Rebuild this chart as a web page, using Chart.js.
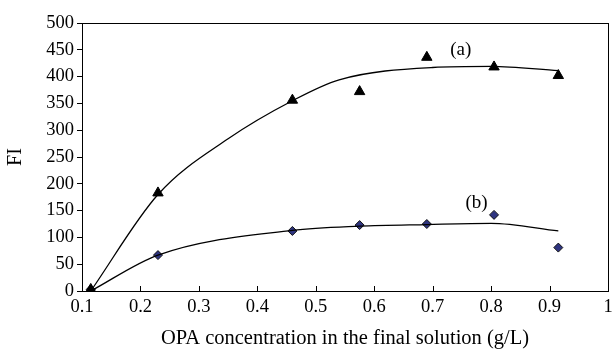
<!DOCTYPE html>
<html>
<head>
<meta charset="utf-8">
<script src="https://cdn.jsdelivr.net/npm/chart.js@4/dist/chart.umd.min.js"></script>
<style>
  html, body { margin: 0; padding: 0; background: #fff; }
  #wrap { width: 615px; height: 349px; }
</style>
</head>
<body>
<div id="wrap"><canvas id="fiChart" width="615" height="349"></canvas></div>
<script>
// measured points, series (a) triangles and (b) diamonds
const concX = [0.115, 0.23, 0.46, 0.575, 0.69, 0.805, 0.915];
const fiA = [3, 183, 356, 372, 436, 418, 402];
const fiB = [3, 67, 112, 123, 125, 142, 81];

// trend curves
const curveAX = [0.115, 0.23, 0.35, 0.46, 0.54, 0.7, 0.8, 0.915];
const curveAY = [0, 180, 284, 355, 394, 417, 419, 411];
const curveBX = [0.115, 0.23, 0.46, 0.575, 0.69, 0.8, 0.915];
const curveBY = [0, 67, 113, 121, 124, 126, 112];

const seriesLabels = ['(a)', '(b)'];
const xTitle = 'OPA concentration in the final solution (g/L)';
const yTitle = 'FI';

const FONT = "'Liberation Serif', 'DejaVu Serif', serif";

function toPoints(xs, ys) {
  return xs.map((x, i) => ({ x: x, y: ys[i] }));
}

// box round the plot, inward x ticks and the (a)/(b) labels
const framePlugin = {
  id: 'frame',
  afterDraw(chart) {
    const { ctx, chartArea: a, scales } = chart;
    ctx.save();
    ctx.strokeStyle = '#000';
    ctx.lineWidth = 1;
    ctx.strokeRect(a.left + 0.5, a.top + 0.5, a.right - a.left, a.bottom - a.top);
    ctx.beginPath();
    scales.x.ticks.forEach(t => {
      const px = Math.round(scales.x.getPixelForValue(t.value)) + 0.5;
      ctx.moveTo(px, a.bottom);
      ctx.lineTo(px, a.bottom - 5);
    });
    ctx.stroke();
    ctx.fillStyle = '#000';
    ctx.font = '19px ' + FONT;
    ctx.textAlign = 'center';
    ctx.textBaseline = 'middle';
    ctx.fillText(seriesLabels[0], scales.x.getPixelForValue(0.748), scales.y.getPixelForValue(450));
    ctx.fillText(seriesLabels[1], scales.x.getPixelForValue(0.775), scales.y.getPixelForValue(164));
    ctx.restore();
  }
};

new Chart(document.getElementById('fiChart').getContext('2d'), {
  type: 'scatter',
  data: {
    datasets: [
      {
        type: 'line',
        data: toPoints(curveAX, curveAY),
        borderColor: '#000',
        borderWidth: 1.3,
        pointRadius: 0,
        cubicInterpolationMode: 'monotone',
        fill: false
      },
      {
        type: 'line',
        data: toPoints(curveBX, curveBY),
        borderColor: '#000',
        borderWidth: 1.3,
        pointRadius: 0,
        cubicInterpolationMode: 'monotone',
        fill: false
      },
      {
        data: toPoints(concX, fiA),
        pointStyle: 'triangle',
        pointRadius: 6,
        backgroundColor: '#000',
        borderColor: '#000',
        borderWidth: 1
      },
      {
        data: toPoints(concX, fiB),
        pointStyle: 'rectRot',
        pointRadius: 4.5,
        backgroundColor: '#2e3480',
        borderColor: '#111',
        borderWidth: 1
      }
    ]
  },
  options: {
    responsive: false,
    animation: false,
    layout: { padding: { left: 0, right: 0, top: 23, bottom: 0 } },
    plugins: {
      legend: { display: false },
      tooltip: { enabled: false }
    },
    scales: {
      x: {
        type: 'linear',
        min: 0.1,
        max: 1,
        afterFit(scale) { scale.height = 58; scale.paddingRight = 6; },
        grid: { display: true, drawOnChartArea: false, drawTicks: false },
        border: { display: true, color: '#000', width: 1 },
        ticks: {
          stepSize: 0.1,
          color: '#000',
          padding: 5,
          font: { family: FONT, size: 18.5 },
          callback: v => String(+v.toFixed(1))
        },
        title: {
          display: true,
          text: xTitle,
          color: '#000',
          font: { family: FONT, size: 20.5, lineHeight: 1 },
          padding: { top: 4, bottom: 0 }
        }
      },
      y: {
        min: 0,
        max: 500,
        afterFit(scale) { scale.width = 82; },
        grid: { drawOnChartArea: false, drawTicks: true, tickLength: 5, color: '#000' },
        border: { display: true, color: '#000', width: 1 },
        ticks: {
          stepSize: 50,
          color: '#000',
          padding: 3,
          font: { family: FONT, size: 18.5 }
        },
        title: {
          display: true,
          text: yTitle,
          color: '#000',
          font: { family: FONT, size: 20 },
          padding: { bottom: 4 }
        }
      }
    }
  },
  plugins: [framePlugin]
});
</script>
</body>
</html>
